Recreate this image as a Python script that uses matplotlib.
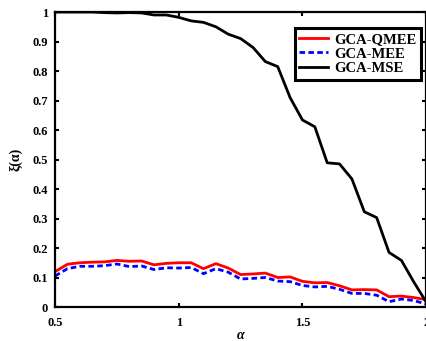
import matplotlib
matplotlib.use("Agg")
import matplotlib.pyplot as plt
import numpy as np

# alpha grid (0.5 .. 2.0, step 0.05)
alpha = [0.5, 0.55, 0.6, 0.65, 0.7, 0.75, 0.8, 0.85, 0.9, 0.95,
         1.0, 1.05, 1.1, 1.15, 1.2, 1.25, 1.3, 1.35, 1.4, 1.45,
         1.5, 1.55, 1.6, 1.65, 1.7, 1.75, 1.8, 1.85, 1.9, 1.95, 2.0]

qmee = [0.120, 0.145, 0.150, 0.152, 0.153, 0.158, 0.155, 0.156, 0.143, 0.148,
        0.150, 0.150, 0.130, 0.147, 0.132, 0.110, 0.112, 0.115, 0.100, 0.102,
        0.087, 0.082, 0.083, 0.072, 0.058, 0.059, 0.058, 0.035, 0.037, 0.032,
        0.025]

mee = [0.105, 0.130, 0.138, 0.138, 0.140, 0.146, 0.137, 0.139, 0.127, 0.133,
       0.132, 0.134, 0.113, 0.130, 0.118, 0.095, 0.097, 0.100, 0.088, 0.086,
       0.073, 0.068, 0.070, 0.060, 0.046, 0.046, 0.040, 0.018, 0.027, 0.022,
       0.010]

mse = [1.000, 1.000, 1.000, 1.000, 0.998, 0.997, 0.998, 0.997, 0.990, 0.990,
       0.982, 0.970, 0.965, 0.950, 0.925, 0.910, 0.880, 0.832, 0.815, 0.710,
       0.634, 0.611, 0.489, 0.485, 0.434, 0.323, 0.303, 0.185, 0.158, 0.085,
       0.017]

xticks = [0.5, 1, 1.5, 2]
xtick_labels = ["0.5", "1", "1.5", "2"]
yticks = np.round(np.arange(0, 1.01, 0.1), 1)
ytick_labels = ["0"] + ["%.1f" % v for v in yticks[1:-1]] + ["1"]

plt.rcParams['font.family'] = ['Liberation Serif', 'DejaVu Serif']

fig = plt.figure(figsize=(4.27, 3.41), dpi=100)
ax = fig.add_axes([0.129, 0.0997, 0.869, 0.865])

ax.plot(alpha, qmee, color='#ff0000', lw=2.0, label='GCA-QMEE')
ax.plot(alpha, mee, color='#0000ff', lw=2.0, linestyle=(0, (2, 1.2)), label='GCA-MEE')
ax.plot(alpha, mse, color='black', lw=2.0, label='GCA-MSE')

ax.set_xlim(0.5, 2)
ax.set_ylim(0, 1)
ax.set_xticks(xticks)
ax.set_xticklabels(xtick_labels, fontweight='bold')
ax.set_yticks(yticks)
ax.set_yticklabels(ytick_labels, fontweight='bold')
ax.tick_params(axis='both', direction='in', length=3, width=1.5, top=True, right=True,
               labelsize=9)
ax.tick_params(axis='x', pad=7)
ax.tick_params(axis='y', pad=5)
for sp in ax.spines.values():
    sp.set_linewidth(1.6)

ax.set_xlabel('α', fontsize=10, fontweight='bold', fontstyle='italic', labelpad=0)
ax.set_ylabel('ξ(α)', fontsize=10, fontweight='bold', labelpad=7)

leg = ax.legend(loc='upper right', bbox_to_anchor=(0.985, 0.945), fontsize=10.5,
                frameon=True, fancybox=False, handlelength=2.0,
                handletextpad=0.4, labelspacing=0.1, borderpad=0.3,
                borderaxespad=0.0, prop={'weight': 'bold', 'size': 10.5})
leg.get_frame().set_edgecolor('black')
leg.get_frame().set_linewidth(2.2)
leg.get_frame().set_alpha(1.0)

fig.savefig('out.png', dpi=100)
